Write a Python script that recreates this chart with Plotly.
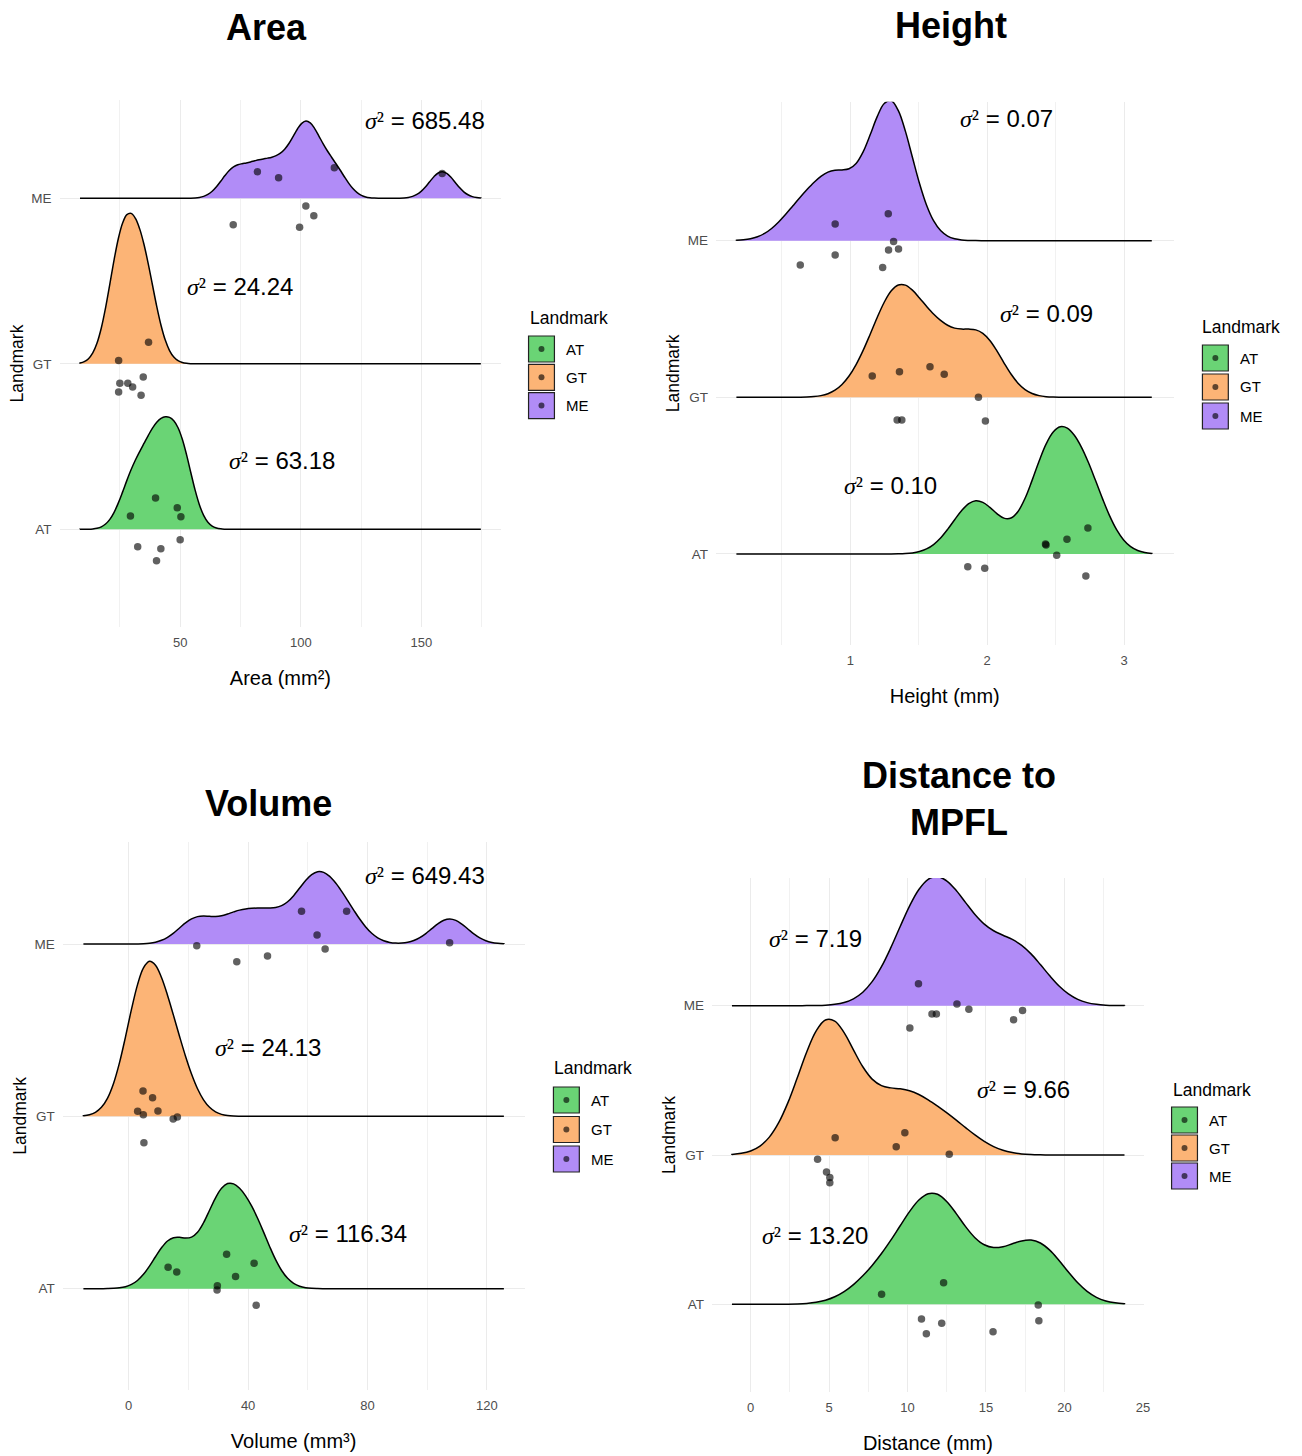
import numpy as np
import plotly.graph_objects as go

# ---------------- data ----------------
categories = ["AT", "GT", "ME"]
fill_colors = ["#6AD475", "#FCB476", "#B18CF7"]

# Area (mm^2): values and vertical jitter offsets of the plotted points
area_at = [29.4, 39.8, 48.8, 50.3, 50.0, 32.4, 42.0, 40.2]
area_gt = [24.5, 36.9, 25.0, 28.3, 30.3, 34.7, 24.5, 33.8]
area_me = [82.0, 90.8, 113.9, 158.6, 102.1, 105.4, 72.0, 99.5]
area_at_jit = [0.08, 0.19, 0.13, 0.076, -0.063, -0.105, -0.117, -0.19]
area_gt_jit = [0.02, 0.13, -0.117, -0.117, -0.14, -0.08, -0.17, -0.19]
area_me_jit = [0.16, 0.125, 0.185, 0.15, -0.047, -0.105, -0.16, -0.175]
area_variance = [63.18, 24.24, 685.48]
area_ticks = [50, 100, 150]
area_minor = [25, 75, 125, 175]

# Height (mm)
height_at = [2.736, 2.583, 2.426, 2.430, 2.508, 1.858, 1.982, 2.721]
height_gt = [1.160, 1.359, 1.582, 1.686, 1.936, 1.342, 1.376, 1.987]
height_me = [0.889, 1.277, 1.316, 1.279, 1.352, 0.889, 0.634, 1.236]
height_at_jit = [0.166, 0.094, 0.064, 0.058, -0.008, -0.081, -0.091, -0.14]
height_gt_jit = [0.136, 0.163, 0.195, 0.147, 0.0, -0.145, -0.145, -0.151]
height_me_jit = [0.107, 0.172, -0.006, -0.059, -0.053, -0.091, -0.155, -0.172]
height_variance = [0.10, 0.09, 0.07]
height_ticks = [1, 2, 3]
height_minor = [0.5, 1.5, 2.5]

# Volume (mm^3)
volume_at = [32.8, 42.0, 13.2, 16.1, 35.8, 29.7, 29.6, 42.7]
volume_gt = [4.8, 8.0, 3.0, 4.9, 9.8, 16.3, 14.9, 5.1]
volume_me = [57.9, 73.0, 63.1, 22.8, 107.5, 65.8, 46.5, 36.2]
volume_at_jit = [0.2, 0.147, 0.124, 0.097, 0.07, 0.017, -0.008, -0.096]
volume_gt_jit = [0.147, 0.108, 0.029, 0.01, 0.031, -0.004, -0.016, -0.153]
volume_me_jit = [0.19, 0.19, 0.052, -0.01, 0.008, -0.029, -0.07, -0.103]
volume_variance = [116.34, 24.13, 649.43]
volume_ticks = [0, 40, 80, 120]
volume_minor = [20, 60, 100]

# Distance to MPFL (mm)
dist_at = [12.30, 8.35, 18.33, 18.37, 10.89, 12.18, 15.45, 11.20]
dist_gt = [5.39, 9.83, 9.28, 12.66, 4.27, 4.84, 5.05, 5.05]
dist_me = [10.70, 13.15, 13.91, 17.33, 11.56, 11.84, 16.76, 10.15]
dist_at_jit = [0.145, 0.067, -0.005, -0.11, -0.098, -0.127, -0.183, -0.197]
dist_gt_jit = [0.116, 0.149, 0.056, 0.005, -0.029, -0.114, -0.15, -0.185]
dist_me_jit = [0.147, 0.011, -0.024, -0.033, -0.056, -0.056, -0.094, -0.149]
dist_variance = [13.20, 9.66, 7.19]
dist_ticks = [0, 5, 10, 15, 20, 25]
dist_minor = [2.5, 7.5, 12.5, 17.5, 22.5]

# ---------------- layout spec (pixels) ----------------
W, H = 1302, 1456

panels = [
    dict(title="<b>Area</b>", title_px=(268, 27),
         values=[area_at, area_gt, area_me], jit=[area_at_jit, area_gt_jit, area_me_jit],
         variance=area_variance, xtitle="Area (mm²)", ticks=area_ticks, minor=area_minor,
         xpx=(59.8, 503.6), ypx=(100, 627), xrange=[0, 183.1], yrange=[-0.590, 2.594],
         peak=[0.68, 0.909, 0.467],
         label_pos=[(92.1, 0.419), (74.8, 1.465), (151.5, 2.473)],
         legend=(530, 318, 531, 349, 28.3)),
    dict(title="<b>Height</b>", title_px=(955, 25),
         values=[height_at, height_gt, height_me], jit=[height_at_jit, height_gt_jit, height_me_jit],
         variance=height_variance, xtitle="Height (mm)", ticks=height_ticks, minor=height_minor,
         xpx=(719.3, 1179), ypx=(101.7, 645), xrange=[0.018, 3.362], yrange=[-0.581, 2.887],
         peak=[0.812, 0.717, 0.893],
         label_pos=[(1.295, 0.434), (2.431, 1.532), (2.14, 2.777)],
         legend=(1206, 327, 1208, 358, 29)),
    dict(title="<b>Volume</b>", title_px=(270, 803),
         values=[volume_at, volume_gt, volume_me], jit=[volume_at_jit, volume_gt_jit, volume_me_jit],
         variance=volume_variance, xtitle="Volume (mm³)", ticks=volume_ticks, minor=volume_minor,
         xpx=(63, 527), ypx=(841.7, 1390), xrange=[-22.1, 132.6], yrange=[-0.588, 2.594],
         peak=[0.61, 0.90, 0.42],
         label_pos=[(73.6, 0.323), (46.6, 1.40), (99.2, 2.395)],
         legend=(555, 1068, 556, 1100, 29.5)),
    dict(title="<b>Distance to<br>MPFL</b>", title_px=(963, 799),
         values=[dist_at, dist_gt, dist_me], jit=[dist_at_jit, dist_gt_jit, dist_me_jit],
         variance=dist_variance, xtitle="Distance (mm)", ticks=dist_ticks, minor=dist_minor,
         xpx=(715.4, 1149), ypx=(878, 1392), xrange=[-2.45, 25.05], yrange=[-0.587, 2.855],
         peak=[0.741, 0.904, 0.864],
         label_pos=[(4.12, 0.464), (17.37, 1.442), (4.12, 2.453)],
         legend=(1176, 1090, 1177, 1120, 28)),
]


def bw_nrd0(x):
    x = np.asarray(x, float)
    hi = x.std(ddof=1)
    q75, q25 = np.percentile(x, [75, 25])
    lo = min(hi, (q75 - q25) / 1.34)
    if lo == 0:
        lo = hi if hi > 0 else 1.0
    return 0.9 * lo * len(x) ** -0.2


FONT = "Arial, Liberation Sans, Helvetica, sans-serif"
fig = go.Figure()
shapes, annotations = [], []
layout_axes = {}

for i, p in enumerate(panels, start=1):
    xa = "x" if i == 1 else f"x{i}"
    ya = "y" if i == 1 else f"y{i}"
    bw = float(np.mean([bw_nrd0(v) for v in p["values"]]))
    allv = np.concatenate([np.asarray(v, float) for v in p["values"]])
    span = [float(allv.min() - 3 * bw), float(allv.max() + 3 * bw)]

    for k in [2, 1, 0]:
        fig.add_trace(go.Violin(
            x=p["values"][k], y0=k, orientation="h", side="positive",
            bandwidth=bw, spanmode="manual", span=span,
            width=2 * p["peak"][k],
            fillcolor=fill_colors[k], opacity=1,
            line=dict(color="black", width=1.5),
            points=False, box_visible=False, meanline_visible=False,
            name=categories[k], showlegend=False, hoverinfo="skip",
            xaxis=xa, yaxis=ya))
    for k in range(3):
        fig.add_trace(go.Scatter(
            x=p["values"][k], y=[k + j for j in p["jit"][k]], mode="markers",
            marker=dict(size=7.5, color="rgba(0,0,0,0.62)"),
            showlegend=False, hoverinfo="skip", xaxis=xa, yaxis=ya))

    x0, x1 = p["xpx"]
    y0, y1 = p["ypx"]
    layout_axes["xaxis" if i == 1 else f"xaxis{i}"] = dict(
        domain=[x0 / W, x1 / W], range=p["xrange"], anchor=ya,
        tickmode="array", tickvals=p["ticks"], ticktext=[str(t) for t in p["ticks"]],
        showgrid=True, gridcolor="#EBEBEB", gridwidth=1,
        minor=dict(tickmode="array", tickvals=p["minor"], showgrid=True,
                   gridcolor="#F1F1F1", gridwidth=1),
        zeroline=False, showline=False, ticks="", ticklabelstandoff=6,
        tickfont=dict(size=13, color="#4D4D4D", family=FONT),
        title=dict(text=p["xtitle"], font=dict(size=20, color="black", family=FONT), standoff=21))
    layout_axes["yaxis" if i == 1 else f"yaxis{i}"] = dict(
        domain=[1 - y1 / H, 1 - y0 / H], range=p["yrange"], anchor=xa,
        tickmode="array", tickvals=[0, 1, 2], ticktext=categories,
        showgrid=True, gridcolor="#EBEBEB", gridwidth=1,
        zeroline=False, showline=False, ticks="", ticklabelstandoff=7,
        tickfont=dict(size=13.5, color="#4D4D4D", family=FONT),
        title=dict(text="Landmark", font=dict(size=17.5, color="black", family=FONT), standoff=3))

    # panel title
    tx, ty = p["title_px"]
    annotations.append(dict(text=p["title"], x=tx / W, y=1 - ty / H, xref="paper", yref="paper",
                            xanchor="center", yanchor="middle", showarrow=False,
                            font=dict(size=36, color="black", family=FONT)))
    # variance labels
    for k in range(3):
        lx, ly = p["label_pos"][k]
        annotations.append(dict(
            text=("<span style='font-family:Liberation Serif'><i>σ</i>²</span>"
                  f" = {p['variance'][k]:.2f}"),
            x=lx, y=ly, xref=xa, yref=ya, xanchor="center", yanchor="middle",
            showarrow=False, font=dict(size=24, color="black", family=FONT)))
    # legend
    ltx, lty, bx, cy0, step = p["legend"]
    annotations.append(dict(text="Landmark", x=ltx / W, y=1 - lty / H, xref="paper", yref="paper",
                            xanchor="left", yanchor="middle", showarrow=False,
                            font=dict(size=17.5, color="black", family=FONT)))
    for k in range(3):
        cy = cy0 + k * step
        shapes.append(dict(type="rect", xref="paper", yref="paper",
                           x0=bx / W, x1=(bx + 26) / W, y0=1 - (cy + 13) / H, y1=1 - (cy - 13) / H,
                           fillcolor=fill_colors[k], line=dict(color="#222222", width=1.2)))
        shapes.append(dict(type="circle", xref="paper", yref="paper",
                           x0=(bx + 10) / W, x1=(bx + 16) / W, y0=1 - (cy + 3) / H, y1=1 - (cy - 3) / H,
                           fillcolor="rgba(0,0,0,0.62)", line=dict(width=0)))
        annotations.append(dict(text=categories[k], x=(bx + 36) / W, y=1 - cy / H,
                                xref="paper", yref="paper", xanchor="left", yanchor="middle",
                                showarrow=False, font=dict(size=15, color="black", family=FONT)))

fig.update_layout(
    width=W, height=H, margin=dict(l=0, r=0, t=0, b=0),
    paper_bgcolor="white", plot_bgcolor="white",
    font=dict(family=FONT, color="black"),
    violinmode="overlay", violingap=0, violingroupgap=0,
    shapes=shapes, annotations=annotations, showlegend=False,
    **layout_axes)

fig.write_html("out.html", config={"displayModeBar": False},
               post_script="document.body.style.margin='0px';")
